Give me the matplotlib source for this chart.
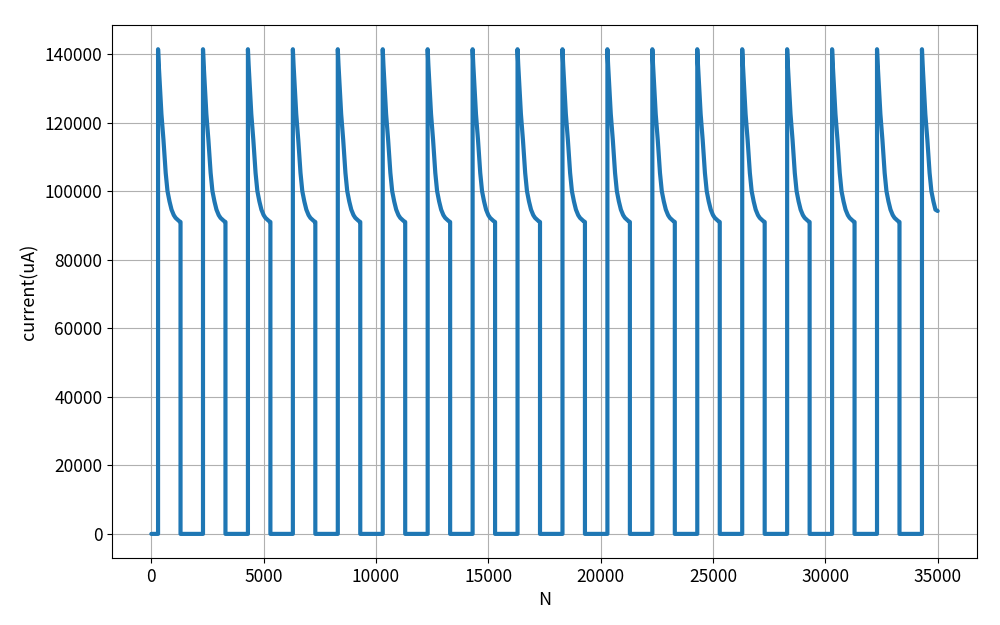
import numpy as np
import matplotlib
matplotlib.use("Agg")
import matplotlib.pyplot as plt

plt.rcParams['font.family'] = ['Noto Sans CJK SC', 'DejaVu Sans']
plt.rcParams['axes.unicode_minus'] = False

# pulse rise positions (sample index N)
pulse_starts = [300, 2300, 4300, 6300, 8300, 10300, 12300, 14300, 16300,
                18300, 20300, 22300, 24300, 26300, 28300, 30300, 32300, 34300]
# decay profile within one pulse (offset from rise, current uA)
decay_offsets = [0, 30, 90, 150, 240, 340, 420, 510, 600, 700, 780, 860, 930, 1000]
decay_values = [141400, 137000, 129500, 122500, 115000, 105300, 100000, 97000,
                94600, 93000, 92200, 91700, 91300, 91000]
n_end = 35000
end_value = 94200

xs = [0]
ys = [0]
for s in pulse_starts:
    xs.append(s); ys.append(0)
    for o, v in zip(decay_offsets, decay_values):
        if s + o >= n_end:
            break
        xs.append(s + o); ys.append(v)
    if s + decay_offsets[-1] < n_end:
        xs.append(s + decay_offsets[-1]); ys.append(0)
    else:
        xs.append(n_end); ys.append(end_value)

fig = plt.figure(figsize=(10, 6.25), dpi=100)
ax = fig.add_axes([0.112, 0.107, 0.865, 0.853])
ax.plot(xs, ys, color='#1f77b4', linewidth=3.0, solid_joinstyle='round',
        solid_capstyle='round')
ax.grid(True, color='#b0b0b0', linewidth=0.8)
ax.set_xlabel('N', fontsize=13)
ax.set_ylabel('current(uA)', fontsize=13)
ax.tick_params(labelsize=12.5)
fig.savefig('out.png', dpi=100)
